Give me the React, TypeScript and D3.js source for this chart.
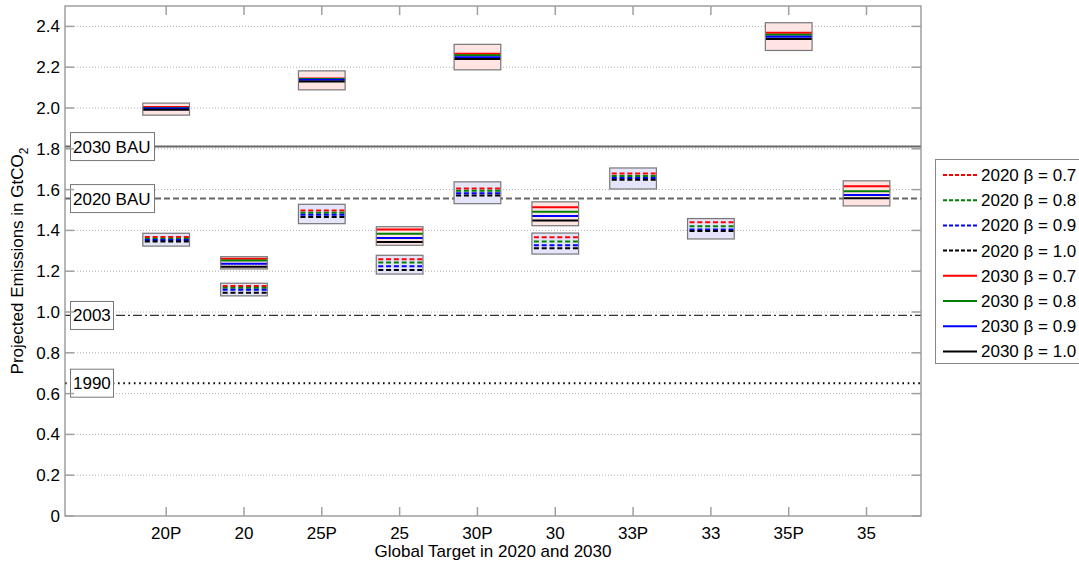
import React from "react";
import * as d3 from "d3";

// ---- data ----
const categories = ["20P", "20", "25P", "25", "30P", "30", "33P", "33", "35P", "35"];
const betaLabels = ["0.7", "0.8", "0.9", "1.0"];
const betaColors = ["#ff0000", "#008000", "#0000ff", "#000000"];

// 2030 projections (β = 0.7, 0.8, 0.9, 1.0), null = not shown
const values2030: (number[] | null)[] = [
  [2.005, 2.0, 1.997, 1.992],
  [1.261, 1.252, 1.237, 1.222],
  [2.145, 2.142, 2.138, 2.13],
  [1.405, 1.383, 1.363, 1.343],
  [2.266, 2.258, 2.249, 2.24],
  [1.513, 1.492, 1.471, 1.449],
  null,
  null,
  [2.369, 2.359, 2.349, 2.338],
  [1.616, 1.592, 1.574, 1.557],
];
const box2030Low: (number | null)[] = [1.965, 1.211, 2.089, 1.327, 2.187, 1.423, null, null, 2.282, 1.52];
const box2030High: (number | null)[] = [2.024, 1.271, 2.182, 1.418, 2.312, 1.54, null, null, 2.418, 1.643];

// 2020 projections
const values2020: (number[] | null)[] = [
  [1.368, 1.359, 1.353, 1.346],
  [1.127, 1.119, 1.109, 1.094],
  [1.498, 1.487, 1.477, 1.466],
  [1.258, 1.243, 1.224, 1.206],
  [1.605, 1.594, 1.582, 1.571],
  [1.366, 1.346, 1.327, 1.312],
  [1.679, 1.667, 1.657, 1.648],
  [1.44, 1.42, 1.405, 1.397],
  null,
  null,
];
const box2020Low: (number | null)[] = [1.323, 1.079, 1.433, 1.186, 1.531, 1.284, 1.603, 1.358, null, null];
const box2020High: (number | null)[] = [1.386, 1.141, 1.528, 1.278, 1.638, 1.387, 1.706, 1.458, null, null];

const refLabels = ["2030 BAU", "2020 BAU", "2003", "1990"];
const refValues = [1.811, 1.556, 0.983, 0.651];

const yTicks = [0, 0.2, 0.4, 0.6, 0.8, 1.0, 1.2, 1.4, 1.6, 1.8, 2.0, 2.2, 2.4];

// ---- layout ----
const W = 1079;
const H = 564;
const L = 65, R = 921, T = 6, B = 516;
const FONT = "'Liberation Sans', Arial, Helvetica, sans-serif";

export default function App() {
  const x = d3.scaleLinear().domain([-0.3, 10.7]).range([L, R]);
  const y = d3.scaleLinear().domain([0, 2.5]).range([B, T]);
  const half = 0.3;
  const axisCol = "#888";
  const tickCol = "#a0a0a0";

  const refStyles = [
    { stroke: "#666", dash: undefined, w: 2 },
    { stroke: "#666", dash: "6,3", w: 2 },
    { stroke: "#333", dash: "9,3,2,3", w: 1.2 },
    { stroke: "#000", dash: "1.6,3.7", w: 2 },
  ];
  const labelW = [84, 84, 43, 43];

  const legendItems = [
    ...betaLabels.map((b, i) => ({ text: `2020 β = ${b}`, color: betaColors[i], dashed: true })),
    ...betaLabels.map((b, i) => ({ text: `2030 β = ${b}`, color: betaColors[i], dashed: false })),
  ];

  const drawGroup = (
    ci: number,
    vals: number[] | null,
    lo: number | null,
    hi: number | null,
    fill: string,
    dashed: boolean,
    key: string
  ) => {
    if (!vals || lo == null || hi == null) return null;
    const x0 = x(ci + 1 - half);
    const x1 = x(ci + 1 + half);
    return (
      <g key={key}>
        <rect x={x0} y={y(hi)} width={x1 - x0} height={y(lo) - y(hi)} fill={fill} stroke="none" />
        {vals.map((v, k) => (
          <line
            key={k}
            x1={x0}
            x2={x1}
            y1={y(v)}
            y2={y(v)}
            stroke={betaColors[k]}
            strokeWidth={2}
            strokeDasharray={dashed ? "5,2.8" : undefined}
            strokeDashoffset={dashed ? -2 : undefined}
          />
        ))}
        <rect x={x0} y={y(hi)} width={x1 - x0} height={y(lo) - y(hi)} fill="none" stroke="#777" strokeWidth={1.2} />
      </g>
    );
  };

  return (
    <svg width={W} height={H} style={{ position: "absolute", left: 0, top: 0, background: "#fff" }} fontFamily={FONT}>
      <rect x={0} y={0} width={W} height={H} fill="#fff" />
      {/* grid */}
      {yTicks.filter((t) => t > 0).map((t) => (
        <line key={t} x1={L} x2={R} y1={y(t)} y2={y(t)} stroke="#b0b0b0" strokeWidth={1} strokeDasharray="1,2" />
      ))}
      {/* reference lines */}
      {refValues.map((v, i) => (
        <line
          key={refLabels[i]}
          x1={L}
          x2={R}
          y1={y(v)}
          y2={y(v)}
          stroke={refStyles[i].stroke}
          strokeWidth={refStyles[i].w}
          strokeDasharray={refStyles[i].dash}
        />
      ))}
      {/* boxes */}
      {categories.map((c, i) => (
        <g key={c}>
          {drawGroup(i, values2030[i], box2030Low[i], box2030High[i], "#ffe4e4", false, "a")}
          {drawGroup(i, values2020[i], box2020Low[i], box2020High[i], "#e4e4fa", true, "b")}
        </g>
      ))}
      {/* reference labels */}
      {refValues.map((v, i) => (
        <g key={"lab" + i}>
          <rect x={70.5} y={y(v) - 14} width={labelW[i]} height={28} fill="#fff" stroke="#777" strokeWidth={1} />
          <text x={73} y={y(v) + 6} fontSize={17} fill="#000">
            {refLabels[i]}
          </text>
        </g>
      ))}
      {/* axes box */}
      <rect x={L} y={T} width={R - L} height={B - T} fill="none" stroke={axisCol} strokeWidth={1.2} />
      {/* y ticks */}
      {yTicks.map((t) => (
        <g key={"yt" + t}>
          <line x1={L} x2={L + 9} y1={y(t)} y2={y(t)} stroke={tickCol} strokeWidth={1.5} />
          <line x1={R - 9} x2={R} y1={y(t)} y2={y(t)} stroke={tickCol} strokeWidth={1.5} />
          <text x={60} y={y(t) + 6} textAnchor="end" fontSize={17} fill="#000">
            {t === 0 ? "0" : d3.format(".1f")(t)}
          </text>
        </g>
      ))}
      {/* x ticks */}
      {categories.map((c, i) => (
        <g key={"xt" + c}>
          <line x1={x(i + 1)} x2={x(i + 1)} y1={B} y2={B - 9} stroke={tickCol} strokeWidth={1.5} />
          <line x1={x(i + 1)} x2={x(i + 1)} y1={T} y2={T + 9} stroke={tickCol} strokeWidth={1.5} />
          <text x={x(i + 1)} y={539} textAnchor="middle" fontSize={17} fill="#000">
            {c}
          </text>
        </g>
      ))}
      {/* axis labels */}
      <text x={(L + R) / 2} y={557} textAnchor="middle" fontSize={17} fill="#000">
        Global Target in 2020 and 2030
      </text>
      <text transform={`translate(23, ${(T + B) / 2}) rotate(-90)`} textAnchor="middle" fontSize={17} fill="#000">
        Projected Emissions in GtCO
        <tspan fontSize={12} dy={5}>2</tspan>
      </text>
      {/* legend */}
      <rect x={935.5} y={159.5} width={150} height={204} fill="#fff" stroke="#888" strokeWidth={1} />
      {legendItems.map((it, i) => {
        const ly = 175 + i * 25.2;
        return (
          <g key={it.text}>
            <line
              x1={943}
              x2={977}
              y1={ly}
              y2={ly}
              stroke={it.color}
              strokeWidth={2}
              strokeDasharray={it.dashed ? "4,2" : undefined}
            />
            <text x={981} y={ly + 6} fontSize={17} fill="#000">
              {it.text}
            </text>
          </g>
        );
      })}
    </svg>
  );
}
